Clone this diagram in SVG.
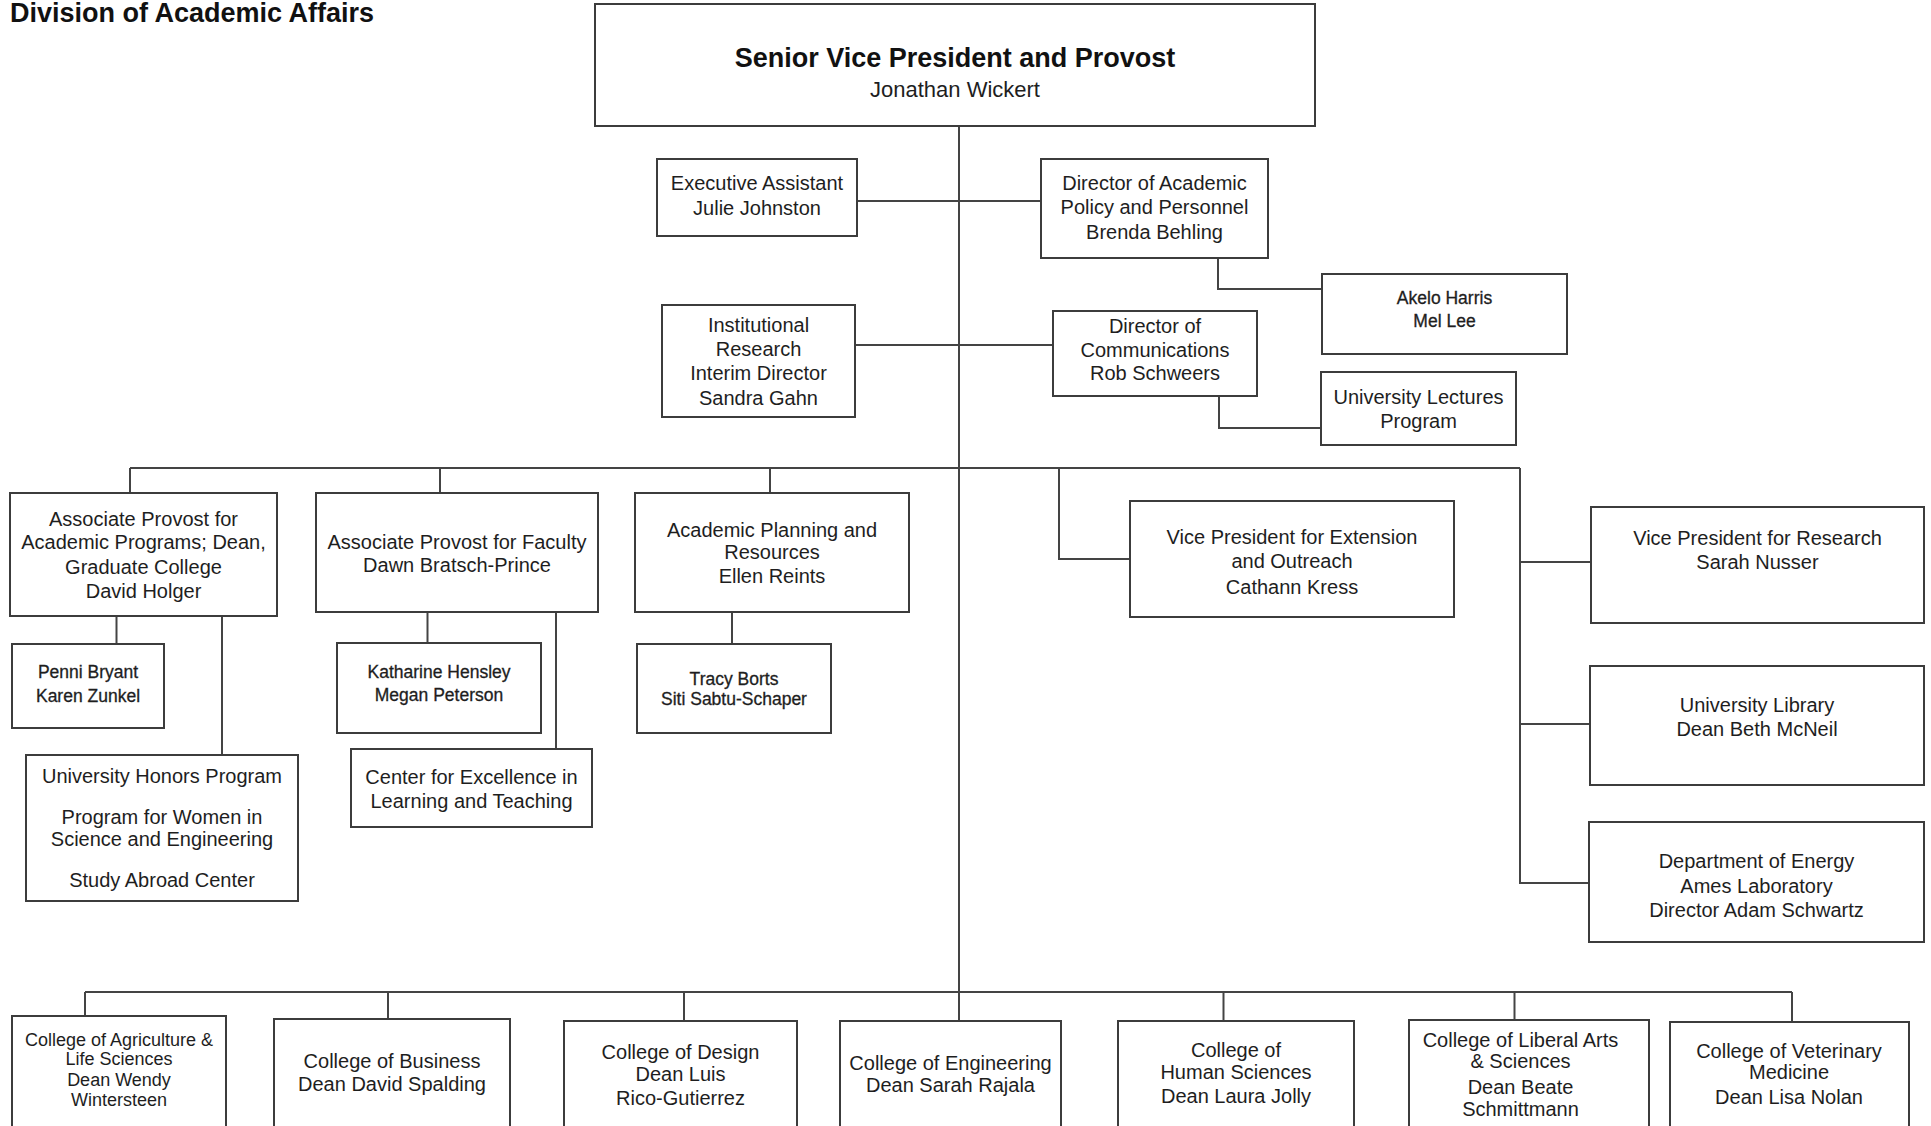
<svg xmlns="http://www.w3.org/2000/svg" width="1931" height="1126" viewBox="0 0 1931 1126">
<style>
  .bg { fill: #ffffff; }
  .box { fill: #ffffff; stroke: #3c3c3c; stroke-width: 2; }
  .ln { fill: none; stroke: #444444; stroke-width: 2; }
  text { font-family: "Liberation Sans", Arial, sans-serif; fill: #1e1e1e; text-anchor: middle; }
  .t { font-size: 20px; }
  .s { font-size: 17.5px; stroke: #1e1e1e; stroke-width: 0.3; }
  .c { font-size: 18px; }
  .title { font-size: 27px; font-weight: bold; text-anchor: start; fill: #111; }
  .head { font-size: 27px; font-weight: bold; fill: #111; }
  .name { font-size: 22px; }
</style>
<rect class="bg" x="0" y="0" width="1931" height="1126"/>

<text class="title" x="10" y="22">Division of Academic Affairs</text>

<g id="connectors">
  <path class="ln" d="M959,126 V1021"/>
  <path class="ln" d="M857,201 H1041"/>
  <path class="ln" d="M855,345 H1053"/>
  <path class="ln" d="M1218,258 V289 H1322"/>
  <path class="ln" d="M1219,396 V428 H1321"/>
  <path class="ln" d="M130,468 H1520"/>
  <path class="ln" d="M130,468 V493"/>
  <path class="ln" d="M440,468 V493"/>
  <path class="ln" d="M770,468 V493"/>
  <path class="ln" d="M1059,468 V559 H1130"/>
  <path class="ln" d="M1520,468 V883 H1589"/>
  <path class="ln" d="M1520,562 H1591"/>
  <path class="ln" d="M1520,724 H1590"/>
  <path class="ln" d="M116.5,616 V644"/>
  <path class="ln" d="M222,616 V755"/>
  <path class="ln" d="M427.5,612 V643"/>
  <path class="ln" d="M556,612 V749"/>
  <path class="ln" d="M732,612 V644"/>
  <path class="ln" d="M85,992 H1792"/>
  <path class="ln" d="M85,992 V1016"/>
  <path class="ln" d="M388,992 V1019"/>
  <path class="ln" d="M684,992 V1021"/>
  <path class="ln" d="M1223.5,992 V1021"/>
  <path class="ln" d="M1514.5,992 V1020"/>
  <path class="ln" d="M1792,992 V1022"/>
</g>

<g id="provost">
  <rect class="box" x="595" y="4" width="720" height="122"/>
  <text class="head" x="955" y="67">Senior Vice President and Provost</text>
  <text class="name" x="955" y="97">Jonathan Wickert</text>
</g>

<g id="exec-assistant">
  <rect class="box" x="657" y="159" width="200" height="77"/>
  <text class="t" x="757" y="189.5">Executive Assistant</text>
  <text class="t" x="757" y="214.5">Julie Johnston</text>
</g>

<g id="dir-academic-policy">
  <rect class="box" x="1041" y="159" width="227" height="99"/>
  <text class="t" x="1154.5" y="189.5">Director of Academic</text>
  <text class="t" x="1154.5" y="214">Policy and Personnel</text>
  <text class="t" x="1154.5" y="238.5">Brenda Behling</text>
</g>

<g id="akelo-mel">
  <rect class="box" x="1322" y="274" width="245" height="80"/>
  <text class="s" x="1444.5" y="304">Akelo Harris</text>
  <text class="s" x="1444.5" y="327">Mel Lee</text>
</g>

<g id="institutional-research">
  <rect class="box" x="662" y="305" width="193" height="112"/>
  <text class="t" x="758.5" y="332">Institutional</text>
  <text class="t" x="758.5" y="355.5">Research</text>
  <text class="t" x="758.5" y="380">Interim Director</text>
  <text class="t" x="758.5" y="404.5">Sandra Gahn</text>
</g>

<g id="dir-communications">
  <rect class="box" x="1053" y="311" width="204" height="85"/>
  <text class="t" x="1155" y="333">Director of</text>
  <text class="t" x="1155" y="356.5">Communications</text>
  <text class="t" x="1155" y="380">Rob Schweers</text>
</g>

<g id="lectures">
  <rect class="box" x="1321" y="372" width="195" height="73"/>
  <text class="t" x="1418.5" y="404">University Lectures</text>
  <text class="t" x="1418.5" y="428">Program</text>
</g>

<g id="assoc-provost-academic">
  <rect class="box" x="10" y="493" width="267" height="123"/>
  <text class="t" x="143.5" y="525.5">Associate Provost for</text>
  <text class="t" x="143.5" y="549">Academic Programs; Dean,</text>
  <text class="t" x="143.5" y="573.5">Graduate College</text>
  <text class="t" x="143.5" y="597.5">David Holger</text>
</g>

<g id="penni-karen">
  <rect class="box" x="12" y="644" width="152" height="84"/>
  <text class="s" x="88" y="677.5">Penni Bryant</text>
  <text class="s" x="88" y="701.5">Karen Zunkel</text>
</g>

<g id="honors">
  <rect class="box" x="26" y="755" width="272" height="146"/>
  <text class="t" x="162" y="783">University Honors Program</text>
  <text class="t" x="162" y="823.5">Program for Women in</text>
  <text class="t" x="162" y="846">Science and Engineering</text>
  <text class="t" x="162" y="886.5">Study Abroad Center</text>
</g>

<g id="assoc-provost-faculty">
  <rect class="box" x="316" y="493" width="282" height="119"/>
  <text class="t" x="457" y="549">Associate Provost for Faculty</text>
  <text class="t" x="457" y="571.5">Dawn Bratsch-Prince</text>
</g>

<g id="katharine-megan">
  <rect class="box" x="337" y="643" width="204" height="90"/>
  <text class="s" x="439" y="677.5">Katharine Hensley</text>
  <text class="s" x="439" y="701">Megan Peterson</text>
</g>

<g id="celt">
  <rect class="box" x="351" y="749" width="241" height="78"/>
  <text class="t" x="471.5" y="784">Center for Excellence in</text>
  <text class="t" x="471.5" y="807.5">Learning and Teaching</text>
</g>

<g id="academic-planning">
  <rect class="box" x="635" y="493" width="274" height="119"/>
  <text class="t" x="772" y="536.5">Academic Planning and</text>
  <text class="t" x="772" y="558.5">Resources</text>
  <text class="t" x="772" y="583">Ellen Reints</text>
</g>

<g id="tracy-siti">
  <rect class="box" x="637" y="644" width="194" height="89"/>
  <text class="s" x="734" y="684.5">Tracy Borts</text>
  <text class="s" x="734" y="704.5">Siti Sabtu-Schaper</text>
</g>

<g id="vp-extension">
  <rect class="box" x="1130" y="501" width="324" height="116"/>
  <text class="t" x="1292" y="544">Vice President for Extension</text>
  <text class="t" x="1292" y="567.5">and Outreach</text>
  <text class="t" x="1292" y="593.5">Cathann Kress</text>
</g>

<g id="vp-research">
  <rect class="box" x="1591" y="507" width="333" height="116"/>
  <text class="t" x="1757.5" y="545">Vice President for Research</text>
  <text class="t" x="1757.5" y="569">Sarah Nusser</text>
</g>

<g id="library">
  <rect class="box" x="1590" y="666" width="334" height="119"/>
  <text class="t" x="1757" y="711.5">University Library</text>
  <text class="t" x="1757" y="736">Dean Beth McNeil</text>
</g>

<g id="ames-lab">
  <rect class="box" x="1589" y="822" width="335" height="120"/>
  <text class="t" x="1756.5" y="867.5">Department of Energy</text>
  <text class="t" x="1756.5" y="893">Ames Laboratory</text>
  <text class="t" x="1756.5" y="917">Director Adam Schwartz</text>
</g>

<g id="college-agriculture">
  <rect class="box" x="12" y="1016" width="214" height="130"/>
  <text class="c" x="119" y="1045.5">College of Agriculture &amp;</text>
  <text class="c" x="119" y="1065">Life Sciences</text>
  <text class="c" x="119" y="1085.5">Dean Wendy</text>
  <text class="c" x="119" y="1105.5">Wintersteen</text>
</g>

<g id="college-business">
  <rect class="box" x="274" y="1019" width="236" height="130"/>
  <text class="t" x="392" y="1067.5">College of Business</text>
  <text class="t" x="392" y="1090.5">Dean David Spalding</text>
</g>

<g id="college-design">
  <rect class="box" x="564" y="1021" width="233" height="130"/>
  <text class="t" x="680.5" y="1059">College of Design</text>
  <text class="t" x="680.5" y="1081">Dean Luis</text>
  <text class="t" x="680.5" y="1104.5">Rico-Gutierrez</text>
</g>

<g id="college-engineering">
  <rect class="box" x="840" y="1021" width="221" height="130"/>
  <text class="t" x="950.5" y="1070">College of Engineering</text>
  <text class="t" x="950.5" y="1091.5">Dean Sarah Rajala</text>
</g>

<g id="college-human-sciences">
  <rect class="box" x="1118" y="1021" width="236" height="130"/>
  <text class="t" x="1236" y="1057">College of</text>
  <text class="t" x="1236" y="1079">Human Sciences</text>
  <text class="t" x="1236" y="1102.5">Dean Laura Jolly</text>
</g>

<g id="college-liberal-arts">
  <rect class="box" x="1409" y="1020" width="240" height="130"/>
  <text class="t" x="1520.5" y="1047">College of Liberal Arts</text>
  <text class="t" x="1520.5" y="1068">&amp; Sciences</text>
  <text class="t" x="1520.5" y="1093.5">Dean Beate</text>
  <text class="t" x="1520.5" y="1116">Schmittmann</text>
</g>

<g id="college-veterinary">
  <rect class="box" x="1670" y="1022" width="239" height="130"/>
  <text class="t" x="1789" y="1057.5">College of Veterinary</text>
  <text class="t" x="1789" y="1079">Medicine</text>
  <text class="t" x="1789" y="1104">Dean Lisa Nolan</text>
</g>
</svg>
